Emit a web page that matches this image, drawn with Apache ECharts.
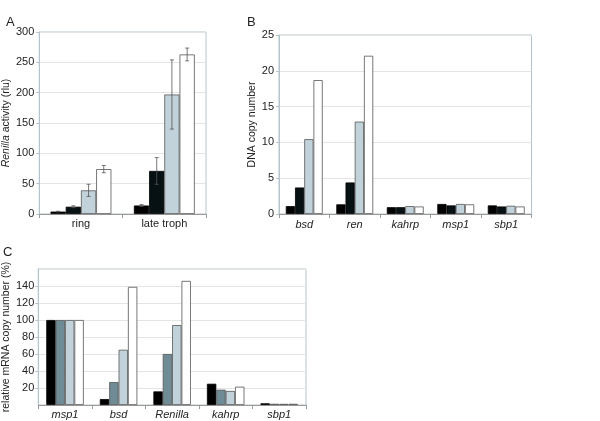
<!DOCTYPE html>
<html>
<head>
<meta charset="utf-8">
<script src="https://cdn.jsdelivr.net/npm/echarts@6/dist/echarts.min.js"></script>
<style>html,body{margin:0;padding:0;background:#fff;}#c{width:600px;height:421px;}</style>
</head>
<body>
<div id="c"></div>
<script>
// Panel A
const catsA = ['ring', 'late troph'];
const a1 = [4, 14], a2 = [12, 71], a3 = [39, 197], a4 = [74, 263];
const eA1 = [0.5, 1.5], eA2 = [1.5, 22], eA3 = [10, 57], eA4 = [6, 10.5];
const ticksA = [0, 50, 100, 150, 200, 250, 300];
// Panel B
const catsB = ['bsd', 'ren', 'kahrp', 'msp1', 'sbp1'];
const b1 = [1.1, 1.35, 0.95, 1.4, 1.2];
const b2 = [3.7, 4.4, 0.95, 1.2, 1.05];
const b3 = [10.45, 12.9, 1.1, 1.4, 1.15];
const b4 = [18.7, 22.1, 1.05, 1.35, 1.05];
const ticksB = [0, 5, 10, 15, 20, 25];
// Panel C
const catsC = ['msp1', 'bsd', 'Renilla', 'kahrp', 'sbp1'];
const c1 = [100, 7, 16, 25, 2];
const c2 = [100, 27, 60, 18, 1.4];
const c3 = [100, 65, 94, 16.5, 1.3];
const c4 = [100, 139, 146, 21.5, 1.4];
const ticksC = [20, 40, 60, 80, 100, 120, 140];

const BLACK = '#000000', BLACK2 = '#071012', SLATE = '#6f8b95', LIGHT = '#c2d2da', WHITE = '#ffffff';
const FONT = 'Liberation Sans, Arial, sans-serif';

function bar(name, data, gi, color, gap) {
  return {
    type: 'bar', name, data, xAxisIndex: gi, yAxisIndex: gi,
    barGap: '0%', barCategoryGap: gap,
    itemStyle: { color, borderColor: color === BLACK || color === BLACK2 ? '#000' : '#555', borderWidth: 0.8 },
    animation: false
  };
}
function errSeries(vals, errs, s) {
  return {
    type: 'custom', xAxisIndex: 0, yAxisIndex: 0, z: 5, animation: false,
    data: vals.map((v, i) => [i, v, errs[i]]),
    encode: { x: 0, y: 1 },
    renderItem: function (params, api) {
      const idx = api.value(0), v = api.value(1), e = api.value(2);
      const band = api.size([1, 0])[0];
      const bw = band * (1 - 0.27) / 4;
      const cx = api.coord([idx, v])[0] + (s - 1.5) * bw;
      const yt = api.coord([idx, v + e])[1];
      const yb = api.coord([idx, v - e])[1];
      const st = { stroke: '#555', lineWidth: 0.8 };
      return { type: 'group', children: [
        { type: 'line', shape: { x1: cx, y1: yt, x2: cx, y2: yb }, style: st },
        { type: 'line', shape: { x1: cx - 2, y1: yt, x2: cx + 2, y2: yt }, style: st },
        { type: 'line', shape: { x1: cx - 2, y1: yb, x2: cx + 2, y2: yb }, style: st }
      ]};
    }
  };
}
function xAx(gi, cats, italic, margin) {
  return {
    type: 'category', gridIndex: gi, data: cats,
    axisLine: { lineStyle: { color: '#9a9a9a', width: 1 } },
    axisTick: { show: true, length: 4, lineStyle: { color: '#9a9a9a' } },
    axisLabel: { color: '#222', fontSize: 11, fontFamily: FONT, fontStyle: italic ? 'italic' : 'normal', margin }
  };
}
function yAx(gi, min, max, interval, name, nameGap, extra) {
  return Object.assign({
    type: 'value', gridIndex: gi, min, max, interval,
    name, nameLocation: 'middle', nameRotate: 90, nameGap,
    nameTextStyle: { color: '#222', fontSize: 10.5, fontFamily: FONT, rich: { i: { fontStyle: 'italic', fontSize: 10.5, fontFamily: FONT, color: '#222' } } },
    axisLine: { show: true, lineStyle: { color: '#b4c4cc' } },
    axisTick: { show: true, length: 3, lineStyle: { color: '#b4c4cc' } },
    axisLabel: { color: '#222', fontSize: 11, fontFamily: FONT, margin: 5 },
    splitLine: { show: true, lineStyle: { color: '#e4e4e4', width: 1 } }
  }, extra || {});
}
const gridStyle = { show: true, borderColor: '#b4c4cc', borderWidth: 1, backgroundColor: 'transparent' };

const option = {
  animation: false,
  textStyle: { fontFamily: FONT },
  grid: [
    Object.assign({ left: 37, top: 32, width: 169, height: 182 }, gridStyle),
    Object.assign({ left: 279, top: 35, width: 252.5, height: 179 }, gridStyle),
    Object.assign({ left: 34, top: 269, width: 272, height: 136 }, gridStyle)
  ],
  xAxis: [xAx(0, catsA, false, 4), xAx(1, catsB, true, 5), xAx(2, catsC, true, 4)],
  yAxis: [
    yAx(0, 0, 300, 50, '{i|Renilla} activity (rlu)', 27),
    yAx(1, 0, 25, 5, 'DNA copy number', 20),
    yAx(2, 0, 160, 20, 'relative mRNA copy number (%)', 26, { axisLabel: { color: '#222', fontSize: 11, fontFamily: FONT, margin: 4, showMinLabel: false, showMaxLabel: false } })
  ],
  series: [
    bar('s1', a1, 0, BLACK, '27%'), bar('s2', a2, 0, BLACK2, '27%'), bar('s3', a3, 0, LIGHT, '27%'), bar('s4', a4, 0, WHITE, '27%'),
    errSeries(a1, eA1, 0), errSeries(a2, eA2, 1), errSeries(a3, eA3, 2), errSeries(a4, eA4, 3),
    bar('b1', b1, 1, BLACK, '27%'), bar('b2', b2, 1, BLACK2, '27%'), bar('b3', b3, 1, LIGHT, '27%'), bar('b4', b4, 1, WHITE, '27%'),
    bar('c1', c1, 2, BLACK, '30%'), bar('c2', c2, 2, SLATE, '30%'), bar('c3', c3, 2, LIGHT, '30%'), bar('c4', c4, 2, WHITE, '30%')
  ],
  graphic: [
    { type: 'text', left: 6, top: 16, style: { text: 'A', fontSize: 13, fontFamily: FONT, fill: '#222' } },
    { type: 'text', left: 247, top: 16, style: { text: 'B', fontSize: 13, fontFamily: FONT, fill: '#222' } },
    { type: 'text', left: 3, top: 246, style: { text: 'C', fontSize: 13, fontFamily: FONT, fill: '#222' } }
  ]
};
const chart = echarts.init(document.getElementById('c'), null, { renderer: 'canvas' });
chart.setOption(option);
</script>
</body>
</html>
